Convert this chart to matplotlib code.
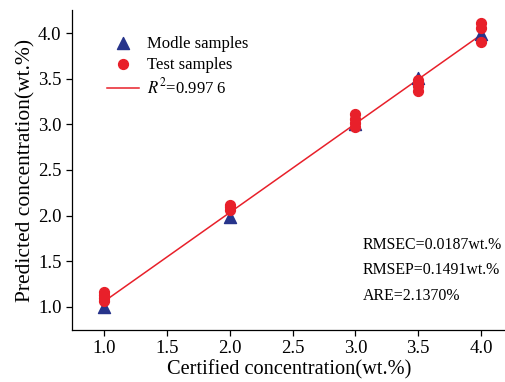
import matplotlib
matplotlib.use("Agg")
import matplotlib.pyplot as plt
import numpy as np

plt.rcParams['font.family'] = ['Liberation Serif', 'DejaVu Serif']
plt.rcParams['mathtext.fontset'] = 'stix'

model_x = [1.0, 2.0, 3.0, 3.5, 4.0]
model_y = [1.00, 1.99, 3.00, 3.51, 3.99]

test_x = [1.0, 1.0, 1.0, 1.0, 2.0, 2.0, 2.0, 3.0, 3.0, 3.0, 3.0, 3.5, 3.5, 3.5, 3.5, 4.0, 4.0, 4.0]
test_y = [1.07, 1.10, 1.13, 1.16, 2.06, 2.09, 2.12, 2.97, 3.01, 3.06, 3.11,
          3.37, 3.42, 3.46, 3.49, 3.90, 4.05, 4.11]

fit_x = [1.0, 4.0]
fit_y = [1.06, 3.98]

xticks = [1.0, 1.5, 2.0, 2.5, 3.0, 3.5, 4.0]
yticks = [1.0, 1.5, 2.0, 2.5, 3.0, 3.5, 4.0]

fig = plt.figure(figsize=(5.06, 3.82), dpi=100)
ax = fig.add_axes([72/506, 1 - 330/382, 1 - 72/506, (330 - 10)/382])

ax.plot(fit_x, fit_y, color='#e8202a', lw=1.1, label=r'$R^2$=0.997 6', zorder=2)
ax.scatter(model_x, model_y, marker='^', s=75, color='#27348b', label='Modle samples', zorder=3)
ax.scatter(test_x, test_y, marker='o', s=50, color='#e8202a', label='Test samples', zorder=4)

ax.set_xlim(0.745, 4.199)
ax.set_ylim(0.748, 4.252)
ax.set_xticks(xticks)
ax.set_yticks(yticks)
ax.set_xticklabels([f"{v:.1f}" for v in xticks])
ax.set_yticklabels([f"{v:.1f}" for v in yticks])
ax.tick_params(direction='out', length=4, width=0.9, labelsize=13.5, colors='black')
ax.spines['top'].set_visible(False)
ax.spines['right'].set_visible(False)
for s in ['left', 'bottom']:
    ax.spines[s].set_linewidth(0.9)

ax.set_xlabel('Certified concentration(wt.%)', fontsize=14.7, labelpad=2)
ax.set_ylabel('Predicted concentration(wt.%)', fontsize=15.5, labelpad=2)

h, l = ax.get_legend_handles_labels()
order = [1, 2, 0]
ax.legend([h[i] for i in order], [l[i] for i in order], loc='upper left',
          frameon=False, fontsize=12, bbox_to_anchor=(0.065, 0.94),
          handlelength=1.9, handletextpad=0.5, labelspacing=0.3, borderaxespad=0)

ax.text(0.67, 0.266, 'RMSEC=0.0187wt.%', transform=ax.transAxes, fontsize=11.4, va='center')
ax.text(0.67, 0.1875, 'RMSEP=0.1491wt.%', transform=ax.transAxes, fontsize=11.4, va='center')
ax.text(0.67, 0.106, 'ARE=2.1370%', transform=ax.transAxes, fontsize=11.4, va='center')

fig.savefig('out.png', dpi=100)
